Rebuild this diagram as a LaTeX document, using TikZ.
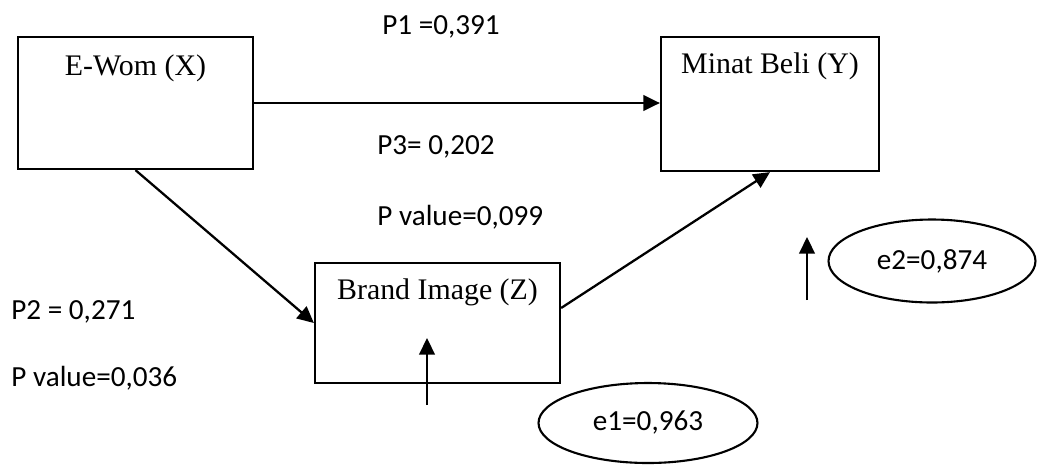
\documentclass[tikz,border=0pt]{standalone}
\usepackage{fontspec}
\setmainfont{Liberation Serif}
\newfontfamily\coeffont{Carlito}
\usepackage{tikz}
\usetikzlibrary{shapes.geometric, arrows.meta, positioning, calc}
\tikzset{
  varbox/.style={
    rectangle, draw=black, line width=1.3pt,
    inner sep=0pt
  },
  varname/.style={
    inner sep=0pt,
    font=\fontsize{17}{20}\selectfont
  },
  errterm/.style={
    ellipse, draw=black, line width=1.2pt, inner sep=0pt,
    font=\coeffont\fontsize{16.6}{20}\selectfont
  },
  coef/.style={
    anchor=west, inner sep=0pt,
    font=\coeffont\fontsize{16.6}{20}\selectfont
  },
  arrow/.style={line width=1.3pt, -{Triangle[length=0.33cm, width=0.31cm]}},
}

\begin{document}
\begin{tikzpicture}[x=0.02cm, y=-0.02cm]
  \useasboundingbox (0,0) rectangle (1038,464);

  % variables
  \node (ewom)  [varbox, minimum width=4.7cm, minimum height=2.64cm] at (135.5,103) {};
  \node (minat) [varbox, minimum width=4.36cm, minimum height=2.68cm] at (770,104) {};
  \node (brand) [varbox, minimum width=4.9cm, minimum height=2.4cm] at (437.5,323) {};

  \node (ewomtxt)  [varname, below=0.79cm of ewom.north, anchor=base]  {E-Wom (X)};
  \node (minattxt) [varname, below=0.75cm of minat.north, anchor=base] {Minat Beli (Y)};
  \node (brandtxt) [varname, below=0.76cm of brand.north, anchor=base] {Brand Image (Z)};

  % error terms
  \node (e1) [errterm, minimum width=4.38cm, minimum height=1.6cm] at (648,423) {e1=0,963};
  \node (e2) [errterm, minimum width=4.14cm, minimum height=1.66cm] at (932,261) {e2=0,874};

  % path coefficients
  \node (p1)    [coef, anchor=center] at (441,27) {P1 =0,391};
  \node (p3)    [coef] at (377,147) {P3= 0,202};
  \node (pval1) [coef] at (377,217) {P value=0,099};
  \node (p2)    [coef] at (11,312)  {P2 = 0,271};
  \node (pval2) [coef] at (11,378)  {P value=0,036};

  \coordinate (e1tail) at (427,405);
  \coordinate (e1head) at (427,338);
  \coordinate (e2tail) at (807,300);
  \coordinate (e2head) at (807,237);

  \draw [arrow] (ewom.east) -- (ewom.east -| minat.west);
  \draw [arrow] (ewom.south) -- (brand.west);
  \draw [arrow] ([yshift=0.3cm]brand.east) -- (minat.south);
  \draw [arrow] (e1tail) -- (e1head);
  \draw [arrow] (e2tail) -- (e2head);
\end{tikzpicture}
\end{document}
